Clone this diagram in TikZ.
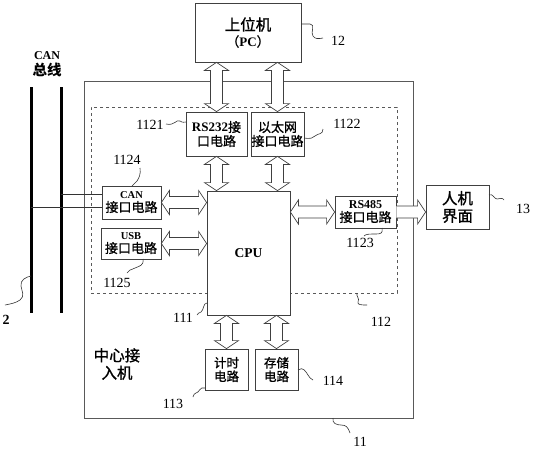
\documentclass[tikz,border=0pt]{standalone}
\usepackage{fontspec}
\setmainfont{Liberation Serif}
\newfontfamily\cjk[UprightFeatures={FakeBold=1.2}]{Noto Sans CJK SC}
\usetikzlibrary{calc}
\newcommand\lat[1]{{\rmfamily\bfseries #1}}
\newcommand\fs[1]{\fontsize{#1}{#1}\selectfont}
% vertical double arrow: #1 upper point, #2 lower point
\newcommand\vda[2]{\draw[arr] let \p1=(#1), \p2=(#2) in
  (\x1,\y1) -- (\x1+12pt,\y1-8pt) -- (\x1+6pt,\y1-8pt) -- (\x1+6pt,\y2+8pt) -- (\x1+12pt,\y2+8pt)
  -- (\x1,\y2) -- (\x1-12pt,\y2+8pt) -- (\x1-6pt,\y2+8pt) -- (\x1-6pt,\y1-8pt) -- (\x1-12pt,\y1-8pt) -- cycle;}
% horizontal double arrow: #1 left point, #2 right point
\newcommand\hda[2]{\draw[arr] let \p1=(#1), \p2=(#2) in
  (\x1,\y1) -- (\x1+8pt,\y1+12pt) -- (\x1+8pt,\y1+6pt) -- (\x2-8pt,\y1+6pt) -- (\x2-8pt,\y1+12pt)
  -- (\x2,\y1) -- (\x2-8pt,\y1-12pt) -- (\x2-8pt,\y1-6pt) -- (\x1+8pt,\y1-6pt) -- (\x1+8pt,\y1-12pt) -- cycle;}
% horizontal single arrow
\newcommand\hsa[2]{\draw[arr] let \p1=(#1), \p2=(#2) in
  (\x1,\y1+6pt) -- (\x2-8pt,\y1+6pt) -- (\x2-8pt,\y1+12pt) -- (\x2,\y1) -- (\x2-8pt,\y1-12pt)
  -- (\x2-8pt,\y1-6pt) -- (\x1,\y1-6pt);}
\begin{document}
\begin{tikzpicture}[x=1pt,y=-1pt,
  box/.style={draw=black!75, line width=0.8pt, fill=white, inner sep=0pt, align=center,
    font=\cjk\fs{13}},
  arr/.style={draw=black!75, line width=0.7pt, fill=white, line join=miter},
  lead/.style={draw=black!80, line width=0.6pt},
  num/.style={font=\fs{14}, inner sep=0pt},
  bus/.style={line width=3pt, black}]
\useasboundingbox (0,0) rectangle (534,450);

% frames
\node[draw=black!65, line width=0.9pt, minimum width=329pt, minimum height=337pt, inner sep=0pt] (outer) at (248.5,249.5) {};
\node[draw=black!65, dashed, line width=0.8pt, minimum width=306pt, minimum height=186pt, inner sep=0pt] (dash) at (244,200) {};

% boxes
\node[box, minimum width=106pt, minimum height=59pt] (pc) at (248,32.5)
  {{\fs{15.5}上位机}\\[3pt]（\lat{PC}）};
\node[box, minimum width=61pt, minimum height=44pt] (rs232) at (216.5,134)
  {\lat{RS232}接\\[1pt]口电路};
\node[box, minimum width=53pt, minimum height=44pt] (eth) at (277.5,134)
  {以太网\\[1pt]接口电路};
\node[box, minimum width=59pt, minimum height=33pt] (can) at (131.5,202.5)
  {\lat{\fs{10.5}CAN}\\接口电路};
\node[box, minimum width=60pt, minimum height=31pt] (usb) at (131,243.5)
  {\lat{\fs{10.5}USB}\\接口电路};
\node[box, minimum width=83pt, minimum height=124pt] (cpu) at (248.5,253)
  {\lat{\fs{13.5}CPU}};
\node[box, minimum width=61pt, minimum height=32pt] (rs485) at (365.5,212)
  {\lat{\fs{12}RS485}\\接口电路};
\node[box, minimum width=63pt, minimum height=44pt, font=\cjk\fs{15.5}] (hmi) at (457.5,207)
  {人机\\[2pt]界面};
\node[box, minimum width=43pt, minimum height=41pt, font=\cjk\fs{12.5}] (timer) at (226.5,369.5)
  {计时\\[1pt]电路};
\node[box, minimum width=43pt, minimum height=41pt, font=\cjk\fs{12.5}] (store) at (276.5,369.5)
  {存储\\[1pt]电路};

% texts
\node[align=center, font=\cjk\fs{15.5}, inner sep=0pt] (center) at (117,364) {中心接\\[2pt]入机};
\node[align=center, font=\cjk\bfseries\fs{14.5}, inner sep=0pt] (canbus) at (47,64) {\lat{\fs{12}CAN}\\[1pt]总线};

% CAN bus
\coordinate (b1t) at (31,87); \coordinate (b1b) at (31,313);
\coordinate (b2t) at (61,87); \coordinate (b2b) at (61,313);
\draw[bus] (b1t) -- (b1b);
\draw[bus] (b2t) -- (b2b);
\coordinate (c1) at (102,194); \coordinate (c2) at (102,207);
\draw[black!80, line width=0.8pt] (b2t |- c1) -- (c1);
\draw[black!80, line width=0.8pt] (b1t |- c2) -- (c2);

% arrows
\vda{rs232.north |- pc.south}{rs232.north}
\vda{eth.north |- pc.south}{eth.north}
\vda{rs232.south}{rs232.south |- cpu.north}
\vda{eth.south}{eth.south |- cpu.north}
\vda{timer.north |- cpu.south}{timer.north}
\vda{store.north |- cpu.south}{store.north}
\hda{can.east}{can.east -| cpu.west}
\hda{usb.east}{usb.east -| cpu.west}
\hda{cpu.east |- rs485.west}{rs485.west}
\hsa{rs485.east}{rs485.east -| hmi.west}

% labels
\node[num] (l12) at (338,41) {12};
\node[num] (l1121) at (150,125) {1121};
\node[num] (l1122) at (347,124) {1122};
\node[num] (l1124) at (127,160) {1124};
\node[num] (l1125) at (117,283) {1125};
\node[num] (l1123) at (360,243) {1123};
\node[num] (l13) at (523,209) {13};
\node[num] (l111) at (183,318) {111};
\node[num] (l112) at (381,322) {112};
\node[num] (l113) at (173,404) {113};
\node[num] (l114) at (333,381) {114};
\node[num] (l11) at (360,442) {11};
\node[num, font=\bfseries\fs{14}] (l2) at (6,320) {2};

% leaders
\draw[lead] (301,24) -- (310,24) .. controls (316,24) and (310,33) .. (313,36) .. controls (315,39) and (318,39) .. (323,38);
\draw[lead] (166,124) .. controls (175,126) and (176,119) .. (180,121) .. controls (183,123) and (184,122) .. (186,122);
\draw[lead] (304,138) .. controls (311,139) and (313,138) .. (315,136) .. controls (318,133) and (323,135) .. (323,129);
\draw[lead] (140,168) .. controls (141,174) and (139,178) .. (137,181) .. controls (135,184) and (133,184) .. (132,186);
\draw[lead] (143,259) .. controls (144,266) and (139,266) .. (135,268) .. controls (131,270) and (128,270) .. (127,273);
\draw[lead] (382,228) .. controls (383,233) and (381,234) .. (376,234) .. controls (369,234) and (366,234) .. (364,236);
\draw[lead] (489,195) .. controls (493,193) and (494,199) .. (497,199) .. controls (500,199) and (502,197) .. (504,200);
\draw[lead] (207,303) .. controls (203,303) and (204,310) .. (201,312) .. controls (199,313) and (198,313) .. (197,315);
\draw[lead] (357,293) .. controls (356,297) and (360,298) .. (358,302) .. controls (357,305) and (362,305) .. (367,305);
\draw[lead] (205,388) .. controls (200,386) and (199,393) .. (196,393) .. controls (194,393) and (194,395) .. (193,397);
\draw[lead] (298,370) .. controls (303,366) and (306,372) .. (308,375) .. controls (310,378) and (311,379) .. (313,380);
\draw[lead] (333,418) .. controls (332,423) and (336,425) .. (341,425) .. controls (346,425) and (348,427) .. (350,433);
\draw[lead] (31,276) .. controls (26,277) and (20,280) .. (21,286) .. controls (22,292) and (25,296) .. (20,300) .. controls (16,303) and (10,304) .. (5,305);
\end{tikzpicture}
\end{document}
